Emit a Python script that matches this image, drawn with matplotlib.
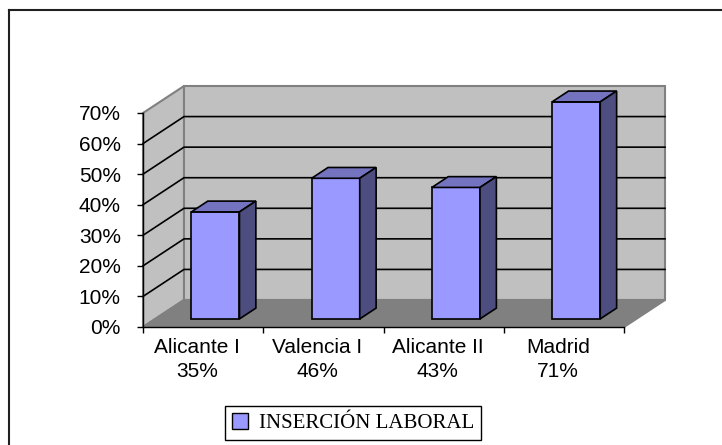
import matplotlib.pyplot as plt
import matplotlib.ticker as ticker
from matplotlib.patches import Polygon, Patch
from matplotlib.lines import Line2D

categories = ["Alicante I", "Valencia I", "Alicante II", "Madrid"]
values = [35, 46, 43, 71]
y_ticks = [0, 10, 20, 30, 40, 50, 60, 70]
legend_label = "INSERCIÓN LABORAL"

# depth of the fake 3d box, in data units (x: categories, y: percent)
DX, DY = 0.341, 8.83
WALL = '#c0c0c0'
FLOOR = '#808080'
EDGE = '#808080'
BAR_FRONT = '#9999ff'
BAR_TOP = '#7373bf'
BAR_SIDE = '#4d4d80'

plt.rcParams['font.family'] = 'Liberation Sans'


def off(x, y, d):
    return (x + DX * d, y + DY * d)


def poly(ax, pts, fc, ec, lw, z):
    ax.add_patch(Polygon(pts, closed=True, facecolor=fc, edgecolor=ec,
                         linewidth=lw, clip_on=False, zorder=z))


fig = plt.figure(figsize=(7.22, 4.45), dpi=100)
ax = fig.add_axes([143 / 722, 118 / 445, 481 / 722, 214 / 445])
n = len(categories)
ymax = y_ticks[-1]
ax.set_xlim(0, n)
ax.set_ylim(0, ymax)
ax.patch.set_visible(False)

# walls and floor
poly(ax, [(0, 0), (0, ymax), off(0, ymax, 1), off(0, 0, 1)], WALL, EDGE, 1.5, 0.5)
poly(ax, [off(0, 0, 1), off(0, ymax, 1), off(n, ymax, 1), off(n, 0, 1)], WALL, EDGE, 1.5, 0.5)
poly(ax, [(0, 0), (n, 0), off(n, 0, 1), off(0, 0, 1)], FLOOR, EDGE, 1.5, 0.6)

# gridlines on side and back wall
for t in y_ticks[1:-1]:
    x0, y0 = off(0, t, 1)
    x1, y1 = off(n, t, 1)
    ax.plot([0, x0, x1], [t, y0, y1], color='black', lw=1.2, clip_on=False, zorder=0.7)

# bars
d0, d1 = 0.3, 0.7
for i, v in enumerate(values):
    xa, xb = i + 0.3, i + 0.7
    poly(ax, [off(xa, 0, d0), off(xb, 0, d0), off(xb, v, d0), off(xa, v, d0)],
         BAR_FRONT, 'black', 1.2, 3)
    poly(ax, [off(xa, v, d0), off(xb, v, d0), off(xb, v, d1), off(xa, v, d1)],
         BAR_TOP, 'black', 1.2, 3)
    poly(ax, [off(xb, 0, d0), off(xb, 0, d1), off(xb, v, d1), off(xb, v, d0)],
         BAR_SIDE, 'black', 1.2, 3)

# axes
for s in ['top', 'right']:
    ax.spines[s].set_visible(False)
for s in ['left', 'bottom']:
    ax.spines[s].set_color('black')
    ax.spines[s].set_linewidth(1.0)

ax.set_yticks(y_ticks)
ax.yaxis.set_major_formatter(ticker.PercentFormatter(decimals=0))
ax.tick_params(axis='y', direction='out', length=4, width=1, pad=12,
               labelsize=15, colors='black')

ax.set_xticks([i + 0.45 for i in range(n)])
ax.set_xticklabels([f"{c}\n{v}%" for c, v in zip(categories, values)],
                   linespacing=1.3)
ax.set_xticks(range(n + 1), minor=True)
ax.tick_params(axis='x', which='major', length=0, pad=8, labelsize=15, colors='black')
ax.tick_params(axis='x', which='minor', direction='out', length=4, width=1)

# legend
leg = fig.legend(handles=[Patch(facecolor=BAR_FRONT, edgecolor='black', label=legend_label)],
                 loc='center', bbox_to_anchor=(353 / 722, 22 / 445),
                 prop={'family': 'Liberation Serif', 'size': 15},
                 fancybox=False, edgecolor='black', framealpha=1,
                 handlelength=0.8, handleheight=0.8, handletextpad=0.5, borderpad=0.35)
leg.get_frame().set_linewidth(1.0)

# chart area border (top and left only visible in the crop)
fig.add_artist(Line2D([9 / 722, 1], [1 - 10 / 445, 1 - 10 / 445],
                      transform=fig.transFigure, color='#202020', lw=1.5))
fig.add_artist(Line2D([9 / 722, 9 / 722], [0, 1 - 10 / 445],
                      transform=fig.transFigure, color='#202020', lw=1.5))

fig.savefig('out.png', dpi=100)
